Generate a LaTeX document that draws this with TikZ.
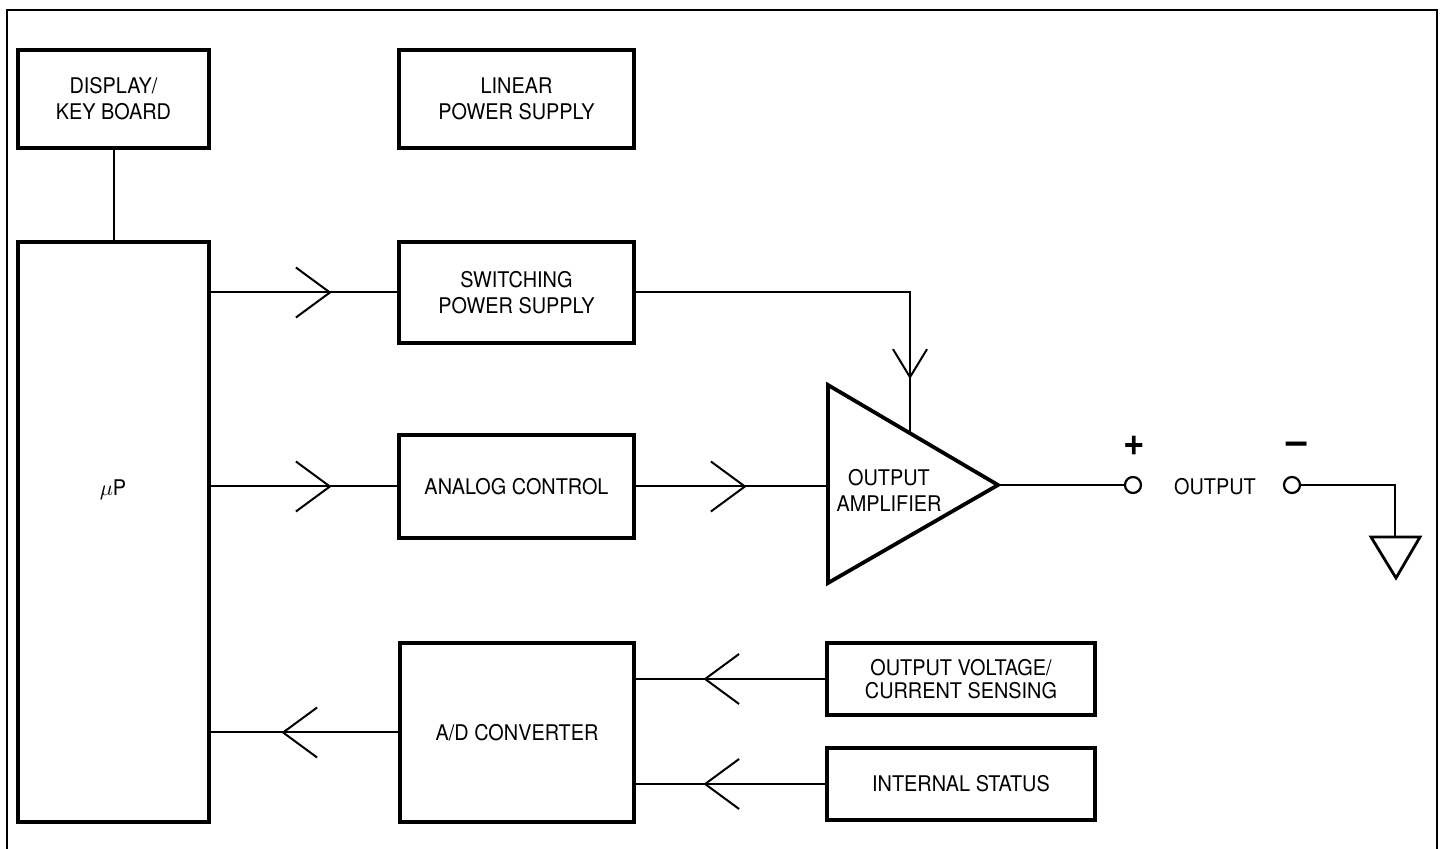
\documentclass[tikz,border=0pt]{standalone}
\usepackage{fontspec}
\setmainfont{TeX Gyre Heros}[FakeStretch=0.92]
\usetikzlibrary{arrows.meta,decorations.markings,calc}
\begin{document}
\begin{tikzpicture}[x=0.5pt,y=-0.5pt,
  lbl/.style={font=\fontsize{10.8}{13}\selectfont, align=center, inner sep=0pt},
  blk/.style={lbl, draw, line width=1.6pt},
  conn/.style={line width=1pt},
  midarrow/.style={postaction={decorate}, decoration={markings,
      mark=at position #1 with {\arrow{Straight Barb[length=17pt,width=25pt,line width=1pt]}}}},
  midarrowsmall/.style={postaction={decorate}, decoration={markings,
      mark=at position #1 with {\arrow{Straight Barb[length=14pt,width=17pt,line width=1pt]}}}},
  term/.style={circle, draw, line width=1.1pt, minimum size=8pt, inner sep=0pt},
  sign/.style={font=\fontsize{20}{20}\selectfont, inner sep=0pt}
]
\useasboundingbox (0,0) rectangle (1442,849);
% frame
\draw[line width=1.4pt] (7,849) -- (7,10) -- (1437,10) -- (1437,849);

% blocks
\node[blk, minimum width=95.5pt, minimum height=49pt] (disp) at (113.5,99) {DISPLAY/\\KEY BOARD};
\node[blk, minimum width=117.5pt, minimum height=49pt] (lin) at (516.5,99) {LINEAR\\POWER SUPPLY};
\node[blk, minimum width=95.5pt, minimum height=290pt] (mu) at (113.5,532) {};
\node[lbl] (mulbl) at (113,490) {$\mu$P};
\node[blk, minimum width=117.5pt, minimum height=50.5pt] (sw) at (516.5,292.5) {SWITCHING\\POWER SUPPLY};
\node[blk, minimum width=117.5pt, minimum height=51.5pt] (ac) at (516.5,486.5) {ANALOG CONTROL};
\node[blk, minimum width=117pt, minimum height=89.5pt] (ad) at (517,732.5) {A/D CONVERTER};
\node[blk, minimum width=134pt, minimum height=36pt, font=\fontsize{10.8}{11.5}\selectfont] (sens) at (961,679) {OUTPUT VOLTAGE/\\CURRENT SENSING};
\node[blk, minimum width=134pt, minimum height=36pt] (stat) at (961,784) {INTERNAL STATUS};

% amplifier
\coordinate (ampin) at (828,487);
\coordinate (ampout) at (998,485);
\coordinate (amptop) at (910,433.2);
\draw[line width=1.9pt] (828,385) -- (ampout) -- (828,583) -- cycle;
\node[lbl] (amplbl) at (889,490) {OUTPUT\\AMPLIFIER};

% output terminals
\node[term] (pt) at (1133,485) {};
\node[term] (mt) at (1292,485) {};
\node[sign, font=\fontsize{20}{20}\bfseries\selectfont] (plus) at (1134,446) {+};
\node[sign, font=\fontsize{20}{20}\bfseries\selectfont] (minus) at (1297,448) {–};
\node[lbl] (outlbl) at (1215,487) {OUTPUT};

% ground
\coordinate (gnd) at (1395,537);
\draw[line width=1.4pt] (1371,537) -- (1420,537) -- (1396,578) -- cycle;

% connectors
\draw[conn] (disp.south) -- (mu.north);
\draw[conn, midarrow=60.5pt] (sw.west -| mu.east) -- (sw.west);
\draw[conn, midarrow=60.5pt] (ac.west -| mu.east) -- (ac.west);
\draw[conn, midarrow=55.5pt] (ac.east) -- (ac.east -| ampin);
\draw[conn, midarrowsmall=180.5pt] (sw.east) -| (amptop);
\draw[conn, midarrow=61pt] (sens.west) -- (sens.west -| ad.east);
\draw[conn, midarrow=61pt] (stat.west) -- (stat.west -| ad.east);
\draw[conn, midarrow=58.5pt] (ad.west) -- (ad.west -| mu.east);
\draw[conn] (ampout) -- (pt.west);
\draw[conn] (mt.east) -| (gnd);
\end{tikzpicture}
\end{document}
